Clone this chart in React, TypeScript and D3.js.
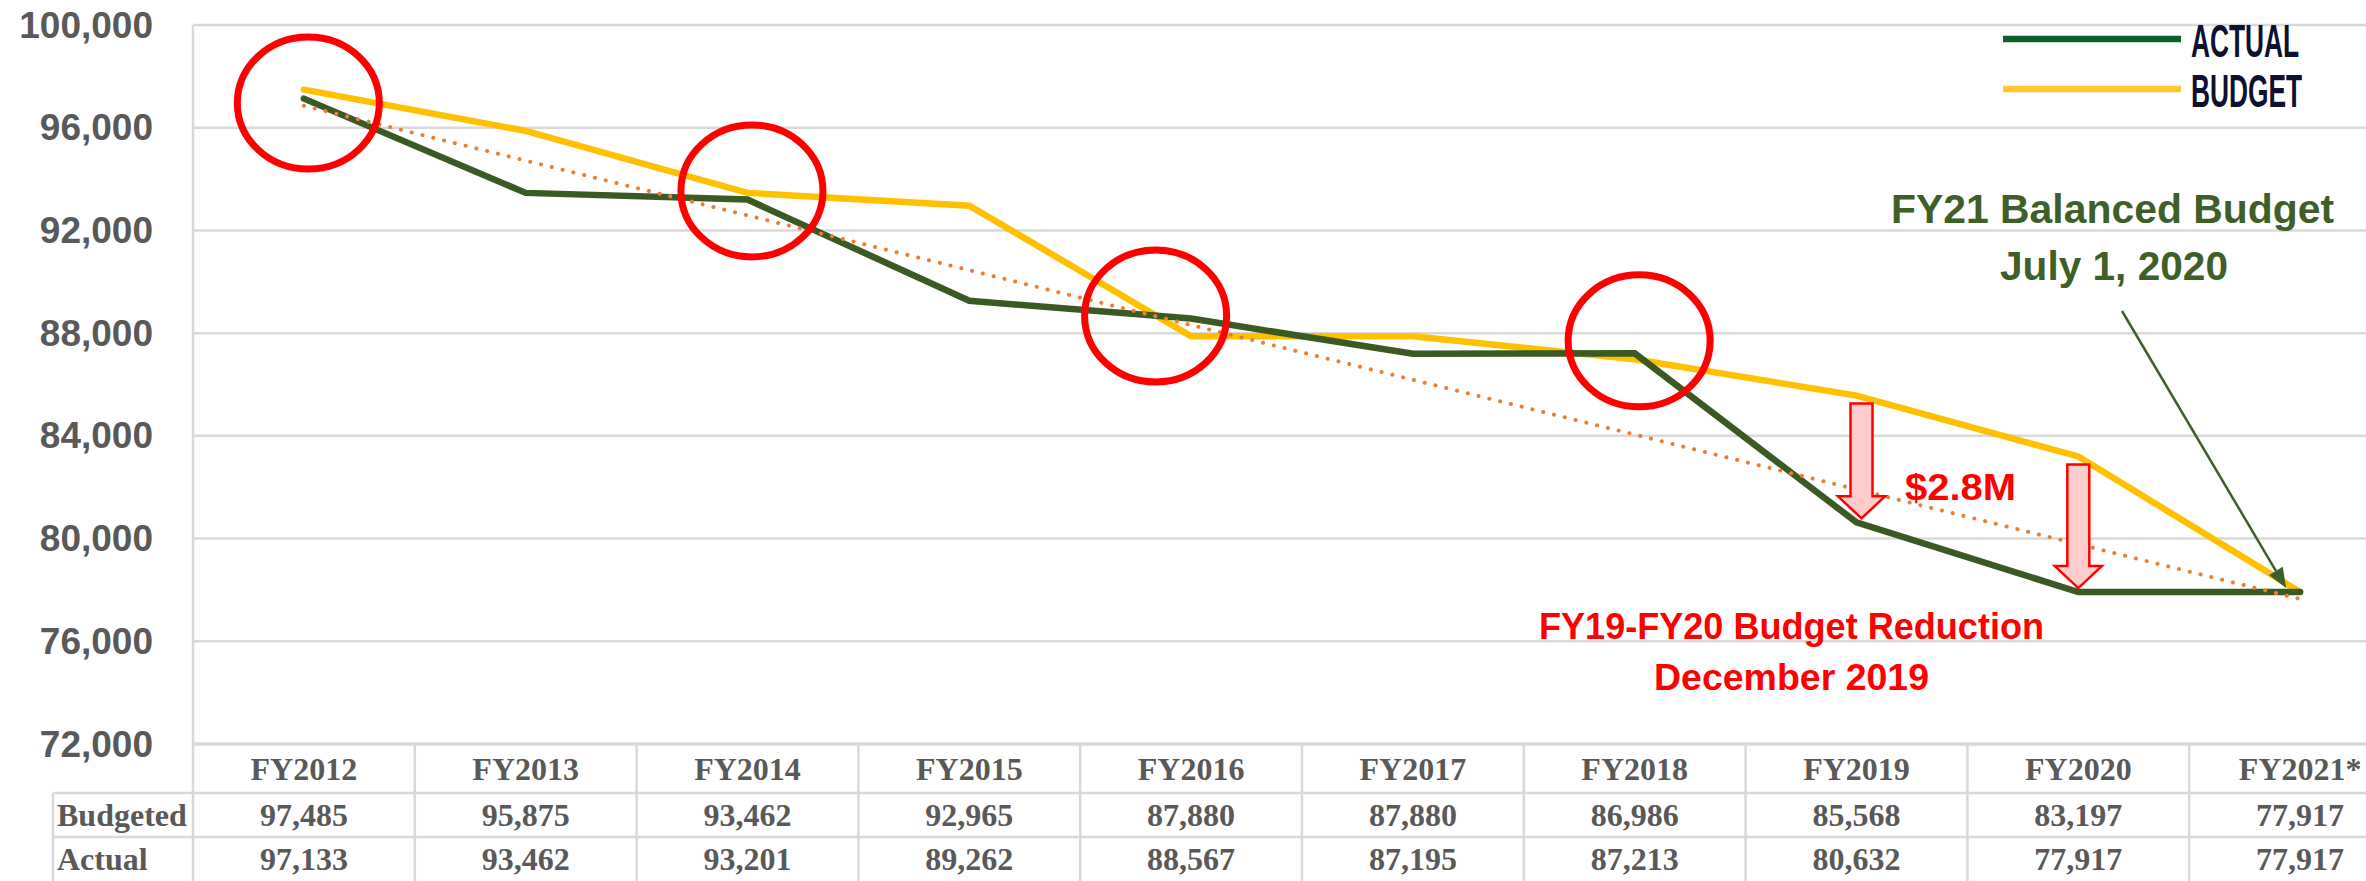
import { useRef, useEffect } from "react";
import * as d3 from "d3";

const fiscalYears = ["FY2012", "FY2013", "FY2014", "FY2015", "FY2016", "FY2017", "FY2018", "FY2019", "FY2020", "FY2021*"];
const budgeted = [97485, 95875, 93462, 92965, 87880, 87880, 86986, 85568, 83197, 77917];
const actual = [97133, 93462, 93201, 89262, 88567, 87195, 87213, 80632, 77917, 77917];
const yTicks = [72000, 76000, 80000, 84000, 88000, 92000, 96000, 100000];
const rowLabels = ["Budgeted", "Actual"];

// red rings: which column, the value they sit on, and a nudge in column widths
const circled = [
  { fy: "FY2012", value: 96960, shift: 0.02 },
  { fy: "FY2014", value: 93540, shift: 0.02 },
  { fy: "FY2016", value: 88670, shift: -0.16 },
  { fy: "FY2018", value: 87700, shift: 0.02 },
];
const reductionYears = ["FY2019", "FY2020"];

const WIDTH = 2366;
const HEIGHT = 881;

const BudgetChart = () => {
  const svgRef = useRef<SVGSVGElement | null>(null);

  useEffect(() => {
    if (!svgRef.current) return;
    const svg = d3.select(svgRef.current);
    svg.selectAll("*").remove();

    const plotLeft = 193;
    const plotTop = 25;
    const plotBottom = 744;
    const colWidth = 221.8;
    const rowLines = [793, 837];
    const labelLeft = 53;
    const grey = "#595959";
    const gridColor = "#d9d9d9";
    const sans = "'Liberation Sans', Arial, sans-serif";

    const x = d3
      .scaleBand<string>()
      .domain(fiscalYears)
      .range([plotLeft, plotLeft + colWidth * fiscalYears.length]);
    const cx = (fy: string) => (x(fy) as number) + x.bandwidth() / 2;

    const y = d3.scaleLinear().domain([72000, 100000]).range([plotBottom, plotTop]);

    // gridlines + y labels
    svg
      .append("g")
      .selectAll("line")
      .data(yTicks)
      .join("line")
      .attr("x1", plotLeft)
      .attr("x2", WIDTH)
      .attr("y1", (d) => y(d))
      .attr("y2", (d) => y(d))
      .attr("stroke", gridColor)
      .attr("stroke-width", (d) => (d === 72000 ? 3.5 : 2.5));

    svg
      .append("g")
      .selectAll("text")
      .data(yTicks)
      .join("text")
      .attr("x", 153)
      .attr("y", (d) => y(d) + 12.5)
      .attr("text-anchor", "end")
      .attr("font-family", sans)
      .attr("font-weight", "bold")
      .attr("font-size", 37)
      .attr("fill", grey)
      .text((d) => d3.format(",")(d));

    // table grid
    const table = svg.append("g").attr("stroke", gridColor).attr("stroke-width", 2.5);
    table.append("line").attr("x1", plotLeft).attr("x2", plotLeft).attr("y1", plotTop).attr("y2", HEIGHT);
    table.append("line").attr("x1", labelLeft).attr("x2", labelLeft).attr("y1", rowLines[0]).attr("y2", HEIGHT);
    rowLines.forEach((ry) => {
      table.append("line").attr("x1", labelLeft).attr("x2", WIDTH).attr("y1", ry).attr("y2", ry);
    });
    fiscalYears.slice(1).forEach((fy) => {
      table
        .append("line")
        .attr("x1", x(fy) as number)
        .attr("x2", x(fy) as number)
        .attr("y1", plotBottom)
        .attr("y2", HEIGHT);
    });

    const cellText = svg
      .append("g")
      .attr("font-family", "'Liberation Serif', 'Times New Roman', serif")
      .attr("font-weight", "bold")
      .attr("font-size", 32)
      .attr("fill", grey)
      .attr("text-anchor", "middle");

    cellText
      .selectAll("text.fy")
      .data(fiscalYears)
      .join("text")
      .attr("class", "fy")
      .attr("x", (d) => cx(d))
      .attr("y", 780)
      .text((d) => d);

    [budgeted, actual].forEach((row, r) => {
      cellText
        .selectAll(`text.row${r}`)
        .data(row)
        .join("text")
        .attr("class", `row${r}`)
        .attr("x", (_, i) => cx(fiscalYears[i]))
        .attr("y", r === 0 ? 826 : 870)
        .text((d) => d3.format(",")(d));
      cellText
        .append("text")
        .attr("x", 57)
        .attr("y", r === 0 ? 826 : 870)
        .attr("text-anchor", "start")
        .text(rowLabels[r]);
    });

    // lines
    const line = d3
      .line<number>()
      .x((_, i) => cx(fiscalYears[i]))
      .y((d) => y(d));

    svg
      .append("path")
      .datum(budgeted)
      .attr("fill", "none")
      .attr("stroke", "#ffc000")
      .attr("stroke-width", 6.5)
      .attr("stroke-linecap", "round")
      .attr("d", line);

    svg
      .append("path")
      .datum(actual)
      .attr("fill", "none")
      .attr("stroke", "#3b5a23")
      .attr("stroke-width", 6.5)
      .attr("stroke-linecap", "round")
      .attr("d", line);

    // linear trendline of actual
    const idx = actual.map((_, i) => i);
    const mx = d3.mean(idx) as number;
    const my = d3.mean(actual) as number;
    const slope =
      d3.sum(idx, (i) => (i - mx) * (actual[i] - my)) / d3.sum(idx, (i) => (i - mx) * (i - mx));
    const trend = idx.map((i) => my + slope * (i - mx));
    const first = fiscalYears[0];
    const last = fiscalYears[fiscalYears.length - 1];
    svg
      .append("line")
      .attr("x1", cx(first))
      .attr("y1", y(trend[0]))
      .attr("x2", cx(last))
      .attr("y2", y(trend[trend.length - 1]))
      .attr("stroke", "#ed7d31")
      .attr("stroke-width", 4)
      .attr("stroke-linecap", "round")
      .attr("stroke-dasharray", "0.1 11");

    // red rings
    svg
      .append("g")
      .selectAll("ellipse")
      .data(circled)
      .join("ellipse")
      .attr("cx", (d) => cx(d.fy) + d.shift * colWidth)
      .attr("cy", (d) => y(d.value))
      .attr("rx", 71)
      .attr("ry", 66)
      .attr("fill", "none")
      .attr("stroke", "#ff0000")
      .attr("stroke-width", 7);

    // reduction arrows, budget down to actual
    const arrowPath = (xc: number, top: number, tip: number) => {
      const sw = 11;
      const hw = 23.5;
      const hl = 22;
      return `M${xc - sw},${top}L${xc + sw},${top}L${xc + sw},${tip - hl}L${xc + hw},${tip - hl}L${xc},${tip}L${xc - hw},${tip - hl}L${xc - sw},${tip - hl}Z`;
    };
    svg
      .append("g")
      .selectAll("path")
      .data(reductionYears)
      .join("path")
      .attr("d", (fy) => {
        const i = fiscalYears.indexOf(fy);
        return arrowPath(cx(fy) + (i === 7 ? 5 : 0), y(budgeted[i]) + 8, y(actual[i]) - 4);
      })
      .attr("fill", "#ffcccc")
      .attr("stroke", "#ff0000")
      .attr("stroke-width", 2.5);

    // red notes
    const red = svg
      .append("g")
      .attr("font-family", sans)
      .attr("font-weight", "bold")
      .attr("fill", "#ff0000")
      .attr("font-size", 36)
      .attr("lengthAdjust", "spacingAndGlyphs");
    red.append("text").attr("x", 1905).attr("y", 500).attr("textLength", 111).attr("lengthAdjust", "spacingAndGlyphs").text("$2.8M");
    red.append("text").attr("x", 1539).attr("y", 639).attr("textLength", 505).attr("lengthAdjust", "spacingAndGlyphs").text("FY19-FY20 Budget Reduction");
    red.append("text").attr("x", 1654).attr("y", 690).attr("textLength", 275).attr("lengthAdjust", "spacingAndGlyphs").text("December 2019");

    // green callout
    const green = "#3f5f28";
    const note = svg
      .append("g")
      .attr("font-family", sans)
      .attr("font-weight", "bold")
      .attr("fill", green)
      .attr("font-size", 40);
    note.append("text").attr("x", 1891).attr("y", 223).attr("textLength", 443).attr("lengthAdjust", "spacingAndGlyphs").text("FY21 Balanced Budget");
    note.append("text").attr("x", 2000).attr("y", 280).attr("textLength", 228).attr("lengthAdjust", "spacingAndGlyphs").text("July 1, 2020");

    const sx = 2122;
    const sy = 311;
    const tx = cx(last) - 14;
    const ty = y(actual[actual.length - 1]) - 4;
    const ang = Math.atan2(ty - sy, tx - sx);
    const hl = 20;
    const hw = 8;
    const bx = tx - hl * Math.cos(ang);
    const by = ty - hl * Math.sin(ang);
    svg.append("line").attr("x1", sx).attr("y1", sy).attr("x2", bx).attr("y2", by).attr("stroke", green).attr("stroke-width", 2.5);
    svg
      .append("path")
      .attr(
        "d",
        `M${tx},${ty}L${bx + hw * Math.sin(ang)},${by - hw * Math.cos(ang)}L${bx - hw * Math.sin(ang)},${by + hw * Math.cos(ang)}Z`
      )
      .attr("fill", green);

    // legend (condensed caps)
    const legend = [
      { label: "ACTUAL", color: "#0d5e2a" },
      { label: "BUDGET", color: "#ffc62f" },
    ];
    const lg = svg.append("g");
    legend.forEach((d, i) => {
      const ly = 39 + i * 50;
      lg.append("line").attr("x1", 2003).attr("x2", 2181).attr("y1", ly).attr("y2", ly).attr("stroke", d.color).attr("stroke-width", 6.5);
      lg.append("text")
        .attr("transform", `translate(2191,${ly + 18}) scale(0.56,1)`)
        .attr("font-family", sans)
        .attr("font-weight", "bold")
        .attr("font-size", 47)
        .attr("fill", "#0d1030")
        .text(d.label);
    });
  }, []);

  return (
    <div style={{ position: "absolute", left: 0, top: 0, background: "#fff" }}>
      <svg ref={svgRef} width={WIDTH} height={HEIGHT}></svg>
    </div>
  );
};

export default function App() {
  return <BudgetChart />;
}
